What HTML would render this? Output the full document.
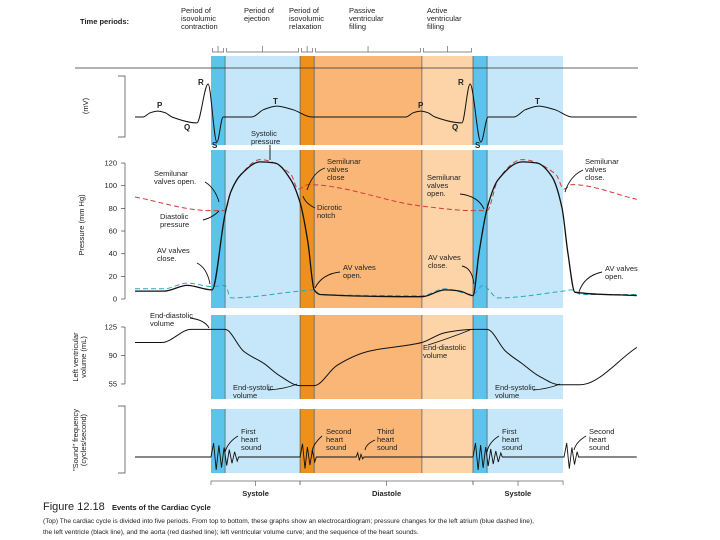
<!DOCTYPE html>
<html><head><meta charset="utf-8"><style>
html,body{margin:0;padding:0;background:#fff;}
svg{display:block;font-family:"Liberation Sans",sans-serif;}
.t{font-size:7.5px;fill:#222;}
.b{font-weight:bold;}
</style></head><body>
<svg id="c" width="720" height="540" viewBox="0 0 720 540">
<g id="bands"></g>
<g id="curves"></g>
<g id="labels"></g>
</svg>
<script>
// ---- data (time in ms from onset of isovolumic contraction) ----
const phaseEdges = [0, 43, 272, 315, 644, 800, 843, 1075];
const ecgT = [-232,-208,-185,-162,-140,-119,-43,-9,18,37,125,160,200,250,308,595,618,641,662,684,766,791,824,846,925,960,1000,1050,1102,1300];
const ecgV = [0,0,0.13,0.18,0.13,0,-0.18,1.0,-0.76,0,0,0.22,0.33,0.22,0,0,0.13,0.18,0.13,0,-0.18,1.0,-0.76,0,0,0.22,0.33,0.22,0,0];
const lvT = [-232,-143,-73,3,43,61,92,150,195,244,272,296,315,333,644,714,760,800,818,843,876,950,995,1041,1072,1090,1111,1300];
const lvP = [7,7,12,8,75,95,110,121,120,105,85,50,8,4,2,8,7,3,40,80,105,121,120,108,80,40,6,3];
const aoT = [-232,-3,43,61,92,150,244,266,296,644,800,843,876,950,1053,1078,1102,1300];
const aoP = [90,78,78,95,110,123,110,97,101,82,78,78,105,123,110,97,101,88];
const laT = [-232,-143,-73,3,43,61,272,315,333,644,714,800,830,876,1075,1100,1130,1300];
const laP = [9,9,14,11,12,1,7,8,4,3,9,4,12,1,7,8,4,4];
const volT = [-232,-150,-61,0,43,100,162,210,272,315,385,480,644,714,800,843,900,950,1000,1066,1126,1300];
const volV = [106,106,122,122,122,95,80,65,53,53,78,95,106,118,122,122,95,80,65,54,54,100];
const soundT = [0,272,443,800,1078];
const soundDur = [80,45,20,85,40];
const soundAmp = [15,15,5,15,16];
const pTicks = [0,20,40,60,80,100,120];
const vTicks = [55,90,125];

// ---- scales ----
const xs = t => 211 + t*0.3275;
const yEcg = v => 117 - v*33;
const yP = p => 299 - p*1.133;
const yV = v => 327 + (125-v)*0.814;
const NS='http://www.w3.org/2000/svg';
function mk(tag, attrs, parent){const e=document.createElementNS(NS,tag);for(const k in attrs)e.setAttribute(k,attrs[k]);parent.appendChild(e);return e;}
// monotone cubic (Fritsch-Carlson) path
function smooth(pts){const n=pts.length,dx=[],m=[],s=[];
 for(let i=0;i<n-1;i++){dx[i]=pts[i+1][0]-pts[i][0];s[i]=(pts[i+1][1]-pts[i][1])/dx[i];}
 m[0]=s[0];m[n-1]=s[n-2];
 for(let i=1;i<n-1;i++){if(s[i-1]*s[i]<=0)m[i]=0;else{const w1=2*dx[i]+dx[i-1],w2=dx[i]+2*dx[i-1];m[i]=(w1+w2)/(w1/s[i-1]+w2/s[i]);}}
 let d='M'+pts[0][0].toFixed(1)+','+pts[0][1].toFixed(1);
 for(let i=0;i<n-1;i++){const h=dx[i]/3;
  d+=`C${(pts[i][0]+h).toFixed(1)},${(pts[i][1]+m[i]*h).toFixed(1)} ${(pts[i+1][0]-h).toFixed(1)},${(pts[i+1][1]-m[i+1]*h).toFixed(1)} ${pts[i+1][0].toFixed(1)},${pts[i+1][1].toFixed(1)}`;}
 return d;}
const bands=document.getElementById('bands'),curves=document.getElementById('curves'),labels=document.getElementById('labels');

// phase bands
const bandColors=['#5cc3ec','#c6e7f9','#f0901c','#f9b677','#fdd3a8','#5cc3ec','#c6e7f9'];
const panels=[[56,145],[150,308],[315,399],[409,473]];
for(const [y0,y1] of panels){
 for(let i=0;i<phaseEdges.length-1;i++){
  const r=mk('rect',{x:xs(phaseEdges[i]),y:y0,width:xs(phaseEdges[i+1])-xs(phaseEdges[i]),height:y1-y0,fill:bandColors[i]},bands);
  
  
 }
 for(let i=1;i<phaseEdges.length-1;i++){
  mk('line',{x1:xs(phaseEdges[i]),x2:xs(phaseEdges[i]),y1:y0,y2:y1,stroke:'#555','stroke-width':0.7},bands);
 }
}
mk('line',{x1:75,x2:638,y1:68,y2:68,stroke:'#333','stroke-width':0.8},bands);

// curves
function curve(T,V,ys,attrs,name){const p=mk('path',Object.assign({d:smooth(T.map((t,i)=>[xs(t),ys(V[i])])),fill:'none'},attrs),curves);
 
 }
curve(ecgT,ecgV,yEcg,{stroke:'#111','stroke-width':1},'ecg-line');
curve(aoT,aoP,yP,{stroke:'#d23a3a','stroke-width':1,'stroke-dasharray':'5,3'},'aorta-pressure-line');
curve(laT,laP,yP,{stroke:'#2aa5c6','stroke-width':1,'stroke-dasharray':'5,3'},'atrium-pressure-line');
curve(lvT,lvP,yP,{stroke:'#111','stroke-width':1.3},'ventricle-pressure-line');
curve(volT,volV,yV,{stroke:'#111','stroke-width':1},'ventricle-volume-line');
// sound
let sd='M'+xs(-232)+',457';
for(let i=0;i<soundT.length;i++){
 const x0=xs(soundT[i]),x1=xs(soundT[i]+soundDur[i]),n=Math.max(4,Math.round((x1-x0)/2.6));
 sd+=`L${x0.toFixed(1)},457`;
 for(let k=1;k<=n;k++){const a=soundAmp[i]*(1-0.8*k/(n+1))*(k%2?-1:1);sd+=`L${(x0+(x1-x0)*k/n).toFixed(1)},${(457+a).toFixed(1)}`;}
 sd+=`L${(x1+1.5).toFixed(1)},457`;
}
sd+=`L${xs(1300)},457`;
const sp=mk('path',{d:sd,fill:'none',stroke:'#111','stroke-width':0.9},curves);



// axes
function vaxis(y0,y1){mk('polyline',{points:`118,${y0} 125,${y0} 125,${y1} 118,${y1}`,fill:'none',stroke:'#444','stroke-width':0.7},labels);}
vaxis(76,137);
mk('line',{x1:125,x2:125,y1:yP(120),y2:yP(0),stroke:'#444','stroke-width':0.7},labels);
for(const p of pTicks){mk('line',{x1:121,x2:125,y1:yP(p),y2:yP(p),stroke:'#444','stroke-width':0.7},labels);
 const t=mk('text',{x:117,y:yP(p)+2.5,'text-anchor':'end',class:'t'},labels);t.textContent=p;
 
 }
mk('line',{x1:125,x2:125,y1:yV(125),y2:yV(55),stroke:'#444','stroke-width':0.7},labels);
for(const v of vTicks){mk('line',{x1:121,x2:125,y1:yV(v),y2:yV(v),stroke:'#444','stroke-width':0.7},labels);
 const t=mk('text',{x:117,y:yV(v)+2.5,'text-anchor':'end',class:'t'},labels);t.textContent=v;
 
 }
vaxis(406,473);

// brackets
function hbr(x0,x1,y,up){const d=up?-4:4;mk('polyline',{points:`${x0},${y+d} ${x0},${y} ${x1},${y} ${x1},${y+d}`,fill:'none',stroke:'#666','stroke-width':0.7},labels);
 mk('line',{x1:(x0+x1)/2,x2:(x0+x1)/2,y1:y,y2:y+(up?-6:5),stroke:'#666','stroke-width':0.7},labels);}
hbr(xs(0),xs(272),481,false);hbr(xs(272),xs(800),481,false);hbr(xs(800),xs(1075),481,false);
for(let i=0;i<5;i++){hbr(xs(phaseEdges[i])+1.5,xs(phaseEdges[i+1])-1.5,52,true);}

function txt(x,y,lines,name,opts={}){const t=mk('text',{x:x,y:y,class:'t'+(opts.b?' b':''),'text-anchor':opts.a||'start'},labels);
 
 
 if(opts.s)t.setAttribute('style','font-size:'+opts.s+'px');
 lines.forEach((l,i)=>{const s=mk('tspan',{x:x,dy:i?(opts.lh||8):0},t);s.textContent=l;});
 if(opts.r)t.setAttribute('transform',`rotate(-90 ${x} ${y})`);return t;}
function arrow(d){return mk('path',{d:d,fill:'none',stroke:'#111','stroke-width':0.9},labels);}

txt(80,24,['Time periods:'],'time-periods-label',{b:1});
txt(181,13,['Period of','isovolumic','contraction'],'period-isovolumic-contraction');
txt(244,13,['Period of','ejection'],'period-ejection');
txt(289,13,['Period of','isovolumic','relaxation'],'period-isovolumic-relaxation');
txt(349,13,['Passive','ventricular','filling'],'period-passive-filling');
txt(427,13,['Active','ventricular','filling'],'period-active-filling');

const ecgL=[['R',198,85],['P',157,108],['Q',184,130],['S',212,148],['T',273,104],['P',418,108],['R',458,85],['Q',452,130],['S',475,148],['T',535,104]];
for(const [s,x,y] of ecgL)txt(x,y,[s],'ecg-wave-label',{b:1,s:8});
txt(88,106,['(mV)'],'ecg-axis-title',{r:1,a:'middle'});
txt(84,225,['Pressure (mm Hg)'],'pressure-axis-title',{r:1,a:'middle'});
txt(78,357,['Left ventricular','volume (mL)'],'volume-axis-title',{r:1,a:'middle'});
txt(78,440,['"Sound" frequency','(cycles/second)'],'sound-axis-title',{r:1,a:'middle'});

txt(251,136,['Systolic','pressure'],'systolic-pressure-note');
txt(154,176,['Semilunar','valves open.'],'semilunar-open-note');
txt(160,219,['Diastolic','pressure'],'diastolic-pressure-note');
txt(157,253,['AV valves','close.'],'av-close-note');
txt(327,164,['Semilunar','valves','close'],'semilunar-close-note');
txt(317,210,['Dicrotic','notch'],'dicrotic-notch-note');
txt(343,270,['AV valves','open.'],'av-open-note');
txt(427,180,['Semilunar','valves','open.'],'semilunar-open-note-2');
txt(428,260,['AV valves','close.'],'av-close-note-2');
txt(585,164,['Semilunar','valves','close.'],'semilunar-close-note-2');
txt(605,271,['AV valves','open.'],'av-open-note-2');
txt(150,318,['End-diastolic','volume'],'edv-note');
txt(233,390,['End-systolic','volume'],'esv-note');
txt(423,350,['End-diastolic','volume'],'edv-note-2');
txt(495,390,['End-systolic','volume'],'esv-note-2');
txt(241,434,['First','heart','sound'],'first-sound-note');
txt(326,434,['Second','heart','sound'],'second-sound-note');
txt(377,434,['Third','heart','sound'],'third-sound-note');
txt(502,434,['First','heart','sound'],'first-sound-note-2');
txt(589,434,['Second','heart','sound'],'second-sound-note-2');
txt(xs(136),496,['Systole'],'systole-label',{b:1,a:'middle'});
txt(xs(536),496,['Diastole'],'diastole-label',{b:1,a:'middle'});
txt(xs(937),496,['Systole'],'systole-label-2',{b:1,a:'middle'});

arrow('M270,145 L270,160');arrow('M205,182 Q215,188 219,202');arrow('M203,220 Q212,218 219,211');
arrow('M197,263 Q207,268 210,284');arrow('M325,168 Q313,172 307,190');arrow('M315,208 Q305,203 303,196');
arrow('M340,272 Q322,274 315,288');arrow('M460,194 Q478,196 484,209');arrow('M462,266 Q472,268 474,284');
arrow('M583,170 Q570,176 565,192');arrow('M602,272 Q584,276 579,292');arrow('M190,318 Q205,320 209,328');
arrow('M268,390 Q285,389 297,384');arrow('M428,345 Q450,338 470,330');arrow('M533,390 Q548,389 560,384');
arrow('M238,436 Q228,442 225,452');arrow('M322,436 Q313,444 312,452');arrow('M375,440 Q366,444 365,450');
arrow('M499,436 Q489,442 487,452');arrow('M586,436 Q576,442 574,450');

txt(43,510,['Figure 12.18'],'figure-number',{s:11});
txt(112,510,['Events of the Cardiac Cycle'],'figure-title',{b:1,s:7.5});
txt(43,523,['(Top) The cardiac cycle is divided into five periods. From top to bottom, these graphs show an electrocardiogram; pressure changes for the left atrium (blue dashed line),','the left ventricle (black line), and the aorta (red dashed line); left ventricular volume curve; and the sequence of the heart sounds.'],'figure-caption',{s:6.6,lh:11});
</script>
</body></html>
